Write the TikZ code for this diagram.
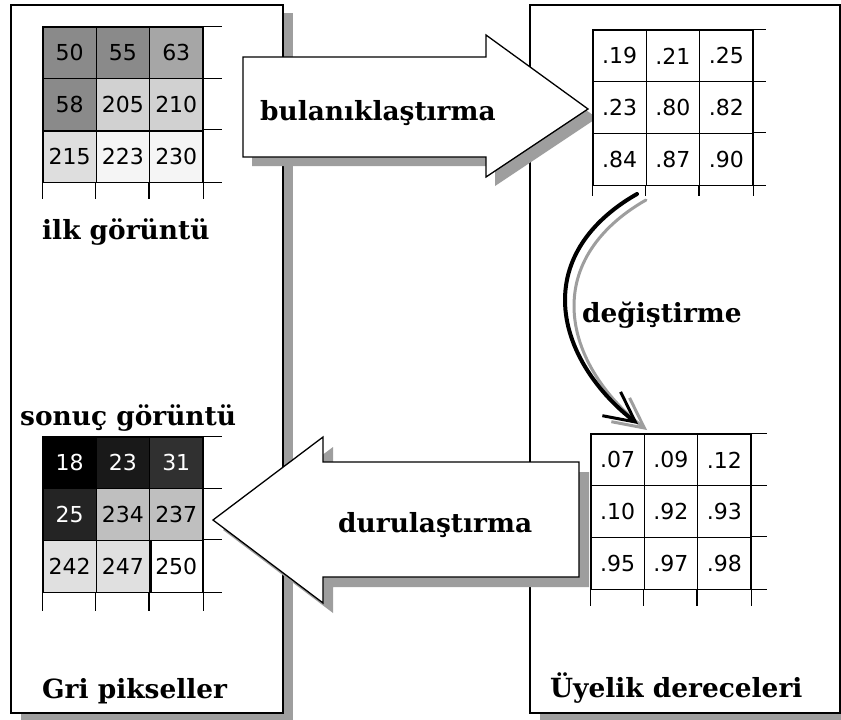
\documentclass[tikz,border=0pt]{standalone}
\usepackage{fontspec}
\setmainfont{DejaVu Serif}
\newfontfamily\numfont{DejaVu Sans}
\usetikzlibrary{arrows.meta}

\tikzset{
  panel/.style={draw=black, line width=1.6pt, fill=white},
  dropshadow/.style={fill=black!38, draw=none},
  pix/.style={draw=black, line width=1.2pt, minimum width=53.3pt,
    minimum height=51.7pt, inner sep=0pt,
    font=\numfont\fontsize{22}{22}\selectfont},
  gridline/.style={draw=black, line width=1.2pt},
  title/.style={font=\bfseries\fontsize{26.4}{26.4}\selectfont, inner sep=0pt,
    anchor=base west},
  bigarrow/.style={draw=black, line width=1.3pt, fill=white, line join=miter},
  curvearrow/.style={line width=4pt, line cap=round,
    -{Straight Barb[length=30pt, width=30pt, line width=3pt]}},
}

% 3x3 pixel grid: name, left x, top y, right overhang, bottom overhang,
% list of value/percent-black/text colour
\newcommand\pixgrid[6]{%
  \foreach \val/\gr/\tcol [count=\k from 0] in {#6} {
    \pgfmathtruncatemacro\rowi{floor(\k/3)}
    \pgfmathtruncatemacro\coli{mod(\k,3)}
    \node[pix, fill=black!\gr, text=\tcol] (#1\k)
      at ({#2+53.3*(\coli+0.5)},{#3+51.7*(\rowi+0.5)}) {\val};
  }
  \foreach \k in {2,5,8} \draw[gridline] (#1\k.north east) -- ++(#4,0);
  \draw[gridline] (#18.south east) -- ++(#4,0);
  \foreach \k in {6,7,8} \draw[gridline] (#1\k.south west) -- ++(0,#5);
  \draw[gridline] (#18.south east) -- ++(0,#5);
}

\begin{document}
\begin{tikzpicture}[x=1pt,y=-1pt]
\useasboundingbox (0,0) rectangle (841,720);

% the two panels with their drop shadows
\fill[dropshadow] (21,13) rectangle (293,722);
\draw[panel] (11,5) rectangle (283,713);
\fill[dropshadow] (540,13) rectangle (852,722);
\draw[panel] (530,5) rectangle (840,713);

% fuzzification arrow
\def\fuzzpath{(243,57) -- (486,57) -- (486,35) -- (588,109) -- (486,177)
  -- (486,157) -- (243,157) -- cycle}
\fill[dropshadow, shift={(9,9)}] \fuzzpath;
\draw[bigarrow] \fuzzpath;
\node[title] (fuzz) at (260,120) {bulanıklaştırma};

% defuzzification arrow
\def\defuzzpath{(213,520) -- (323,437) -- (323,462) -- (579,462)
  -- (579,577) -- (323,577) -- (323,603) -- cycle}
\fill[dropshadow, shift={(10,10)}] \defuzzpath;
\draw[bigarrow] \defuzzpath;
\node[title] (defuzz) at (338,532) {durulaştırma};

% grey pixel grids
\pixgrid{tl}{43}{27}{18}{16}{50/46/black,55/46/black,63/35/black,
  58/46/black,205/18/black,210/18/black,215/13/black,223/4/black,230/4/black}
\draw[line width=2.6pt] (tl3.south west) -- (tl5.south east);

\pixgrid{bl}{43}{437}{18}{18}{18/100/white,23/90/white,31/81/white,
  25/86/white,234/25/black,237/25/black,242/12/black,247/12/black,250/0/black}
\draw[line width=2.6pt] (bl7.north east) -- (bl7.south east);

% membership grids
\pixgrid{tr}{593}{30}{12}{10}{.19/0/black,.21/0/black,.25/0/black,
  .23/0/black,.80/0/black,.82/0/black,.84/0/black,.87/0/black,.90/0/black}
\pixgrid{br}{591}{434}{15}{16}{.07/0/black,.09/0/black,.12/0/black,
  .10/0/black,.92/0/black,.93/0/black,.95/0/black,.97/0/black,.98/0/black}

% modification arrow, grey shadow first
\def\bendpath{(637,194) .. controls (600,215) and (565,250) .. (565,300)
  .. controls (565,350) and (600,395) .. (638,424)}
\draw[curvearrow, draw=black!38, line width=3pt, shift={(9,6)}] \bendpath;
\draw[curvearrow] \bendpath;
\node[title] (modify) at (582,322) {değiştirme};

% captions
\node[title] (orig) at (42,239) {ilk görüntü};
\node[title] (result) at (20,425) {sonuç görüntü};
\node[title] (grey) at (42,698) {Gri pikseller};
\node[title] (member) at (550,697) {Üyelik dereceleri};
\end{tikzpicture}
\end{document}
